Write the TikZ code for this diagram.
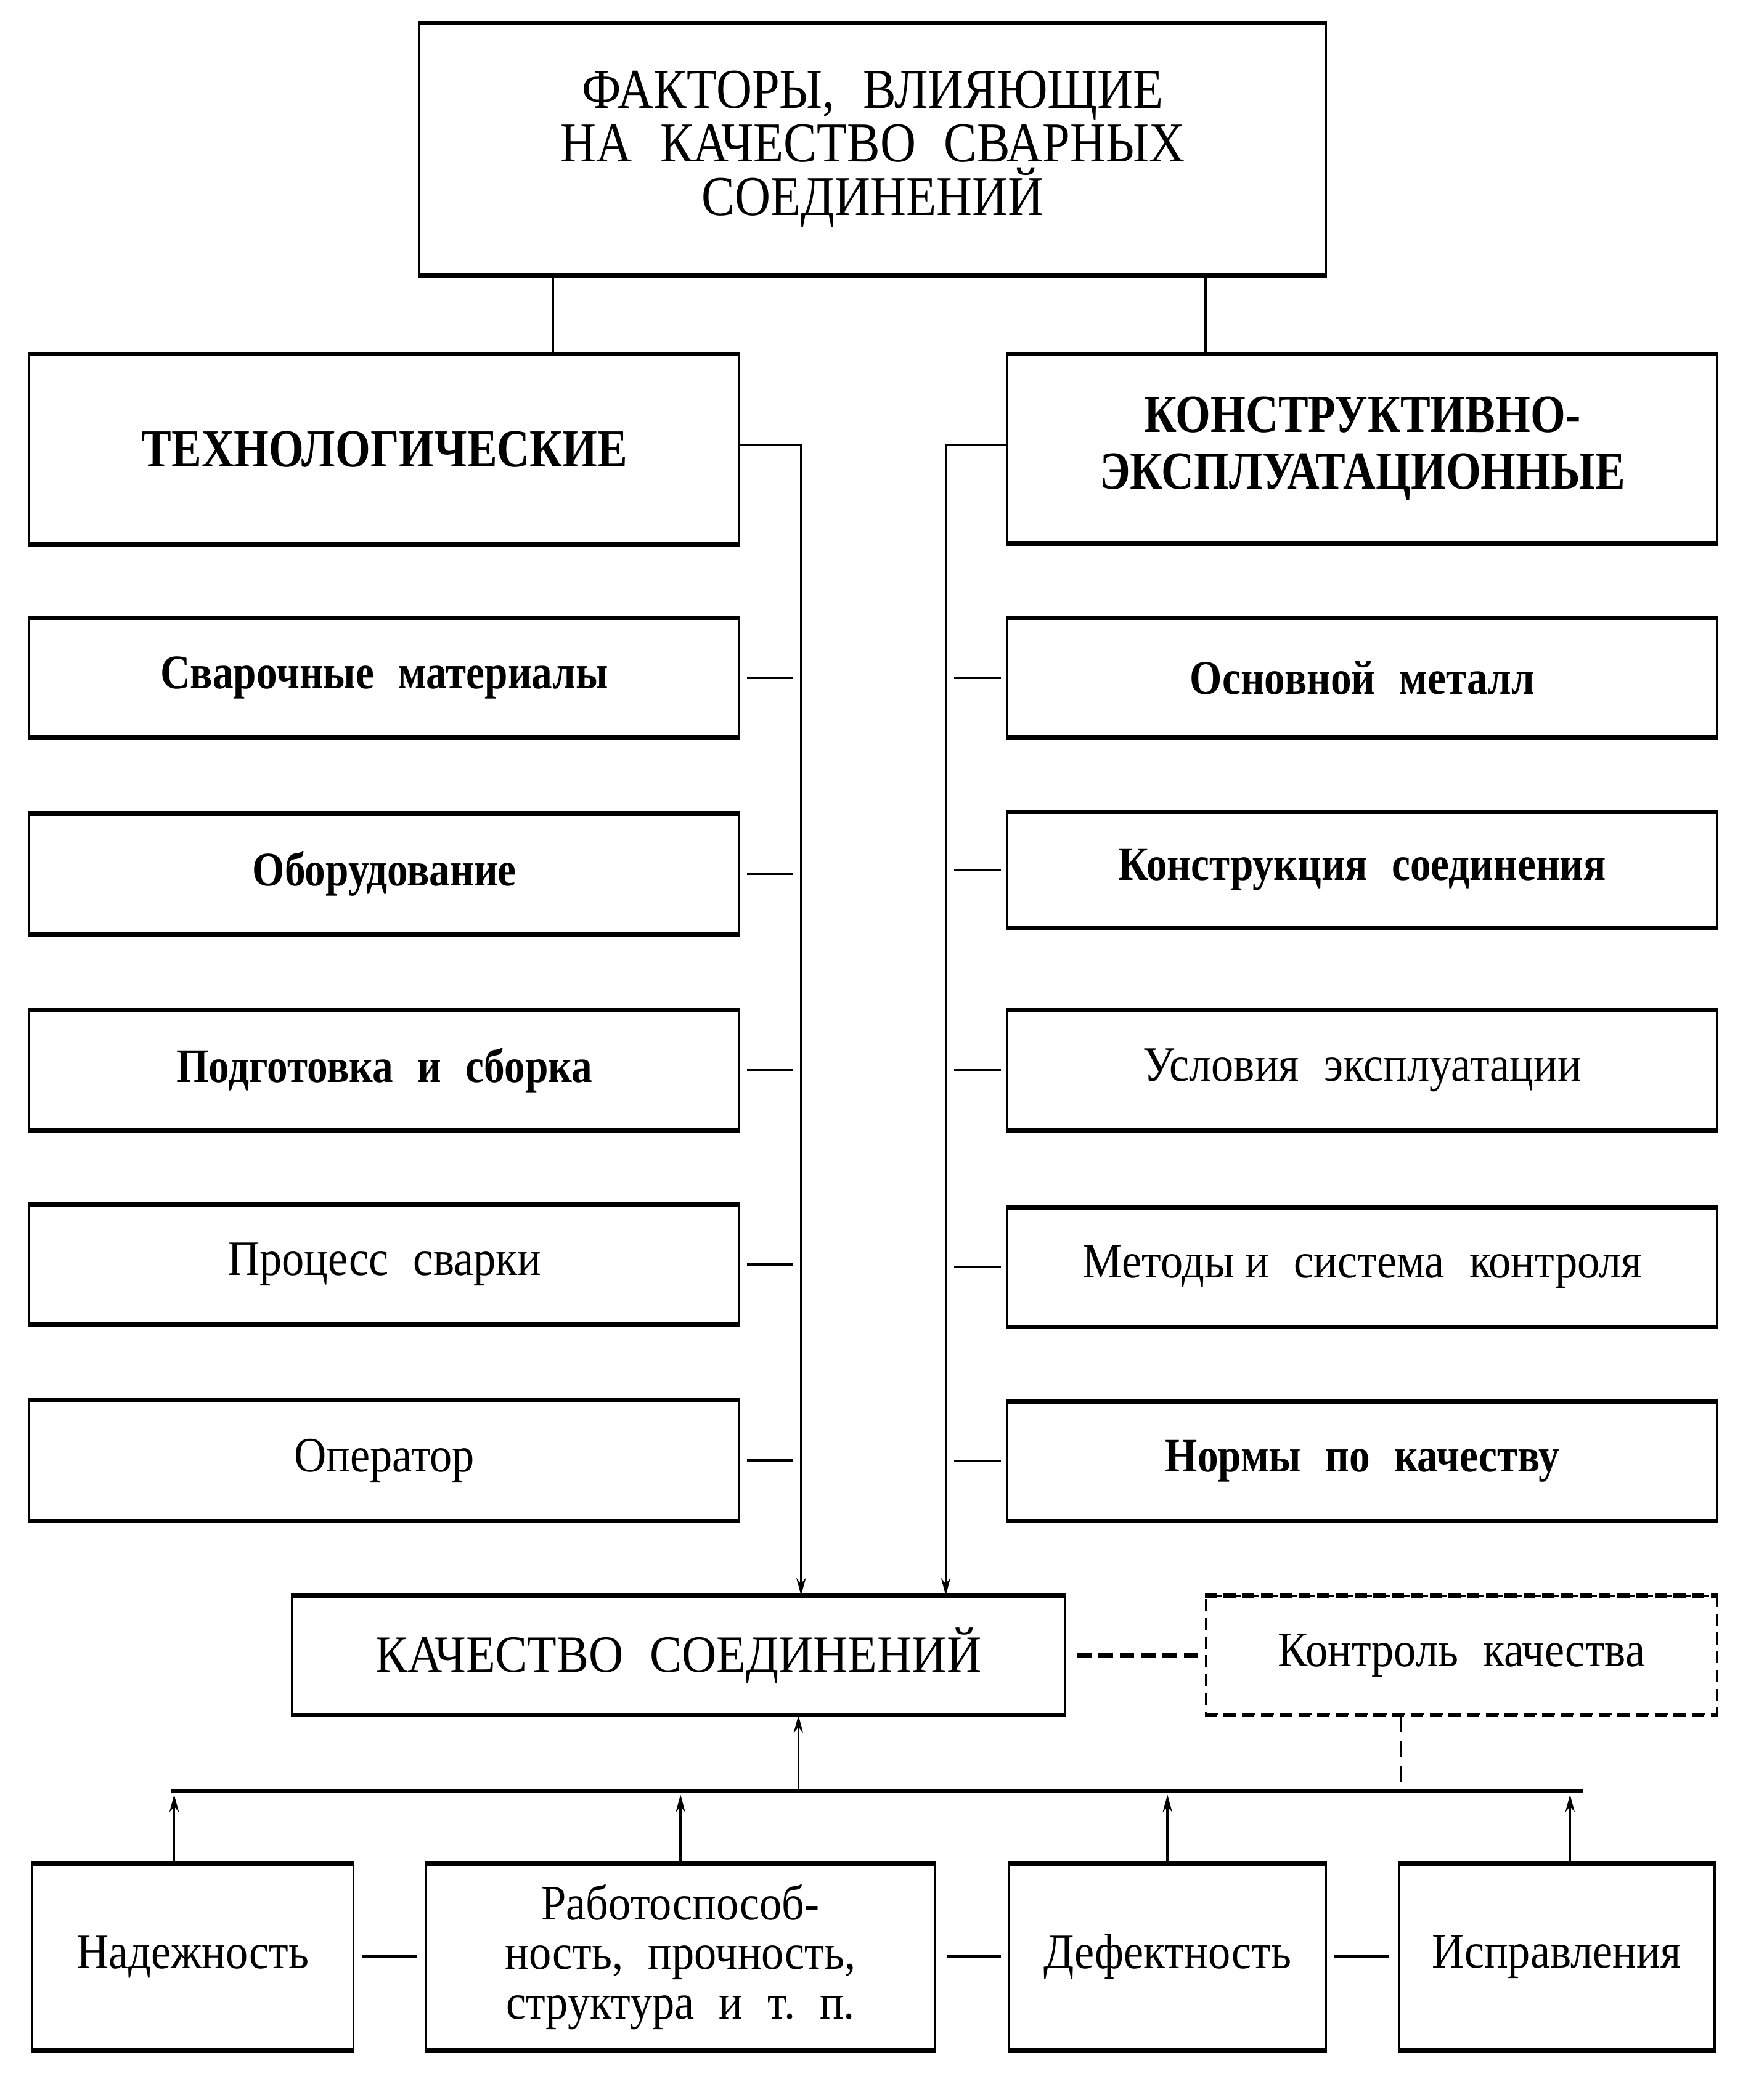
\documentclass[tikz,border=0pt]{standalone}
\usepackage{fontspec}
\setmainfont{Liberation Serif}
\newfontfamily\topf[FakeStretch=0.88]{Liberation Serif}
\newfontfamily\headf[FakeStretch=0.84]{Liberation Serif}
\newfontfamily\labf[FakeStretch=0.86]{Liberation Serif}
\newfontfamily\regf[FakeStretch=0.90]{Liberation Serif}
\newfontfamily\capf[FakeStretch=0.92]{Liberation Serif}
\usetikzlibrary{arrows.meta}
\begin{document}
\begin{tikzpicture}[x=1pt,y=-1pt,
  box/.style={draw, line width=1.5pt, inner sep=0pt, align=center},
  dbox/.style={box, dashed, dash pattern=on 9pt off 5pt},
  edge/.style={line width=3.4pt},
  dedge/.style={line width=3.4pt, dash pattern=on 9pt off 5pt},
  conn/.style={line width=1.6pt},
  arr/.style={conn, -{Stealth[length=13pt,width=7pt]}},
  big/.style={font=\topf\fontsize{42}{40}\selectfont},
  head/.style={font=\headf\bfseries\fontsize{40}{42}\selectfont},
  lab/.style={font=\labf\bfseries\fontsize{36}{36}\selectfont},
  labr/.style={font=\regf\fontsize{37}{36}\selectfont},
  caps/.style={font=\capf\fontsize{39}{36}\selectfont},
  small/.style={font=\regf\fontsize{37}{37}\selectfont},
]
\useasboundingbox (0,0) rectangle (1300.7,1568);
% top
\node[box, big, minimum width=677pt, minimum height=187pt] (top) at (651.5,111.5)
  {ФАКТОРЫ,\enspace ВЛИЯЮЩИЕ\\НА\enspace КАЧЕСТВО\enspace СВАРНЫХ\\СОЕДИНЕНИЙ};
% headers
\node[box, head, minimum width=530pt, minimum height=141pt] (tech) at (287,335.5) {ТЕХНОЛОГИЧЕСКИЕ};
\node[box, head, minimum width=530pt, minimum height=140pt] (kon) at (1017,335)
  {КОНСТРУКТИВНО-\\ЭКСПЛУАТАЦИОННЫЕ};
% left column
\node[box, lab,  minimum width=530pt, minimum height=88pt] (l1) at (287,506) {Сварочные\enspace материалы};
\node[box, lab,  minimum width=530pt, minimum height=89pt] (l2) at (287,652.5) {Оборудование};
\node[box, lab,  minimum width=530pt, minimum height=88pt] (l3) at (287,799) {Подготовка\enspace и\enspace сборка};
\node[box, labr, minimum width=530pt, minimum height=88pt] (l4) at (287,944) {Процесс\enspace сварки};
\node[box, labr, minimum width=530pt, minimum height=89pt] (l5) at (287,1090.5) {Оператор};
% right column
\node[box, lab,  minimum width=530pt, minimum height=88pt] (r1) at (1017,506) {Основной\enspace металл};
\node[box, lab,  minimum width=530pt, minimum height=85pt] (r2) at (1017,649.5) {Конструкция\enspace соединения};
\node[box, labr, minimum width=530pt, minimum height=88pt] (r3) at (1017,799) {Условия\enspace эксплуатации};
\node[box, labr, minimum width=530pt, minimum height=88pt] (r4) at (1017,946) {Методы и\enspace система\enspace контроля};
\node[box, lab,  minimum width=530pt, minimum height=88pt] (r5) at (1017,1091) {Нормы\enspace по\enspace качеству};
% quality
\node[box, caps, minimum width=577pt, minimum height=88pt] (qual) at (506.5,1236) {КАЧЕСТВО\enspace СОЕДИНЕНИЙ};
\node[dbox, small, minimum width=382pt, minimum height=88pt] (ctrl) at (1091,1236) {Контроль\enspace качества};
% bottom row
\node[box, small, minimum width=240pt, minimum height=138pt] (b1) at (144,1461) {Надежность};
\node[box, small, minimum width=380pt, minimum height=138pt] (b2) at (508,1461)
  {Работоспособ-\\ность,\enspace прочность,\\структура\enspace и\enspace т.\enspace п.};
\node[box, small, minimum width=237pt, minimum height=138pt] (b3) at (871.5,1461) {Дефектность};
\node[box, small, minimum width=236pt, minimum height=138pt] (b4) at (1162,1461) {Исправления};
% thick top/bottom edges
\foreach \n in {top,tech,kon,l1,l2,l3,l4,l5,r1,r2,r3,r4,r5,qual,b1,b2,b3,b4}
  \draw[edge] (\n.north west) -- (\n.north east) (\n.south west) -- (\n.south east);
\draw[dedge] (ctrl.north west) -- (ctrl.north east) (ctrl.south west) -- (ctrl.south east);
% top connectors
\draw[conn] ([xshift=-238.5pt]top.south) -- ([xshift=-238.5pt]top.south |- tech.north);
\draw[conn] ([xshift=248.5pt]top.south) -- ([xshift=248.5pt]top.south |- kon.north);
% main verticals
\coordinate (tl) at (598,332);
\coordinate (kr) at (706,332);
\draw[arr] (tech.east |- tl) -- (tl) -- (tl |- qual.north);
\draw[arr] (kon.west |- kr) -- (kr) -- (kr |- qual.north);
% ticks
\foreach \n in {l1,l2,l3,l4,l5}
  \draw[conn, shorten <=5pt, shorten >=6pt] (\n.east) -- (\n.east -| tl);
\foreach \n in {r1,r2,r3,r4,r5}
  \draw[conn, shorten <=4pt, shorten >=6pt] (\n.west) -- (\n.west -| kr);
% quality - control
\draw[conn, line width=3pt, dash pattern=on 11pt off 5pt, shorten <=8pt, shorten >=5pt] (qual.east) -- (ctrl.west);
% bus
\coordinate (busL) at (128,1337);
\coordinate (busR) at (1182,1337);
\draw[conn, line width=2.4pt] (busL) -- (busR);
\coordinate (up) at (596,1337);
\draw[arr] (up) -- (up |- qual.south);
\coordinate (dn) at (1046,1333);
\draw[conn, dash pattern=on 12pt off 7pt] (dn |- ctrl.south) -- (dn);
% arrows from bottom boxes
\draw[arr, shorten >=3pt] ([xshift=-14pt]b1.north) -- ([xshift=-14pt]b1.north |- busL);
\draw[arr, shorten >=3pt] (b2.north) -- (b2.north |- busL);
\draw[arr, shorten >=3pt] (b3.north) -- (b3.north |- busL);
\draw[arr, shorten >=3pt] ([xshift=10pt]b4.north) -- ([xshift=10pt]b4.north |- busL);
% bottom connectors
\draw[conn, line width=2pt, shorten <=6pt, shorten >=6pt] (b1.east) -- (b2.west);
\draw[conn, line width=2pt, shorten <=8pt, shorten >=5pt] (b2.east) -- (b3.west);
\draw[conn, line width=2pt, shorten <=5pt, shorten >=6pt] (b3.east) -- (b4.west);
\end{tikzpicture}
\end{document}
